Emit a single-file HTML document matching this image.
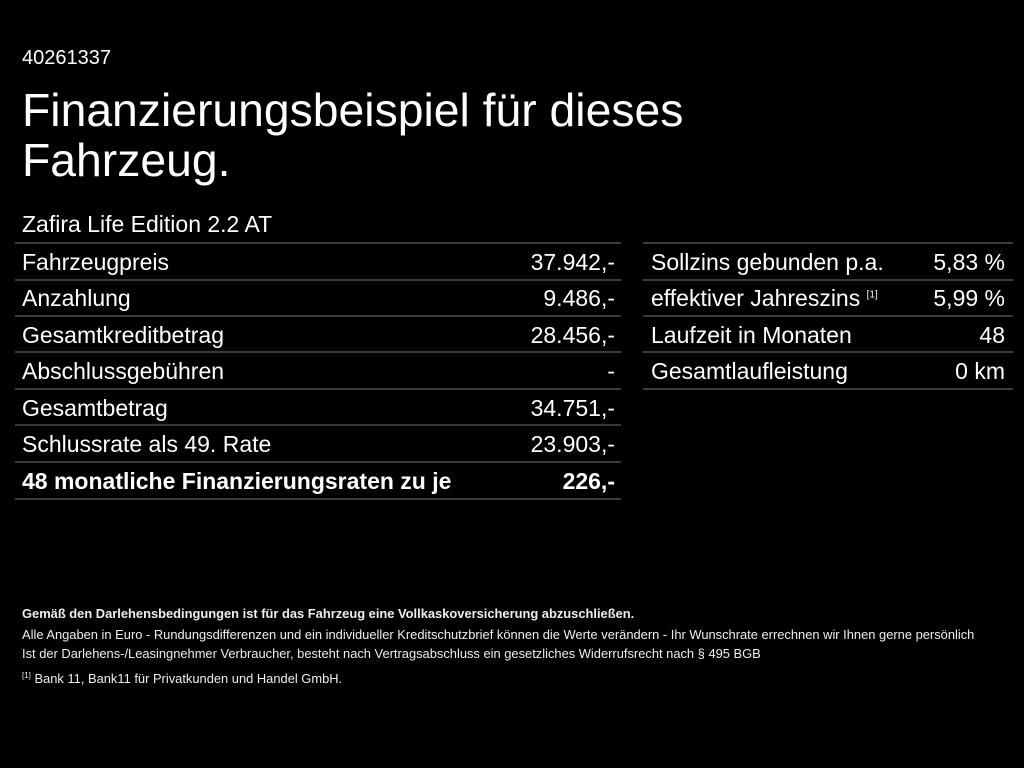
<!DOCTYPE html>
<html><head><meta charset="utf-8"><style>
body{margin:0;width:1024px;height:768px;background:#000;color:#fff;font-family:"Liberation Sans",sans-serif;position:relative;overflow:hidden}
.a{position:absolute;white-space:nowrap}
.l{position:absolute;height:2px;background:#3a3a3a}
.r{position:absolute;font-size:23px;white-space:nowrap}
.f{position:absolute;font-size:12.9px;white-space:nowrap;color:#eee}
</style></head><body>
<div class="a" style="left:22px;top:47px;font-size:20px">40261337</div>
<div class="a" style="left:22px;top:85px;font-size:46.3px;line-height:50px">Finanzierungsbeispiel für dieses<br>Fahrzeug.</div>
<div class="a" style="left:22px;top:211px;font-size:23px">Zafira Life Edition 2.2 AT</div>

<div class="l" style="left:15px;width:606px;top:242px"></div>
<div class="l" style="left:15px;width:606px;top:279px"></div>
<div class="l" style="left:15px;width:606px;top:315px"></div>
<div class="l" style="left:15px;width:606px;top:351px"></div>
<div class="l" style="left:15px;width:606px;top:388px"></div>
<div class="l" style="left:15px;width:606px;top:424px"></div>
<div class="l" style="left:15px;width:606px;top:461px"></div>
<div class="l" style="left:15px;width:606px;top:498px"></div>

<div class="r" style="left:22px;top:249px">Fahrzeugpreis</div><div class="r" style="right:409px;top:249px">37.942,-</div>
<div class="r" style="left:22px;top:285px">Anzahlung</div><div class="r" style="right:409px;top:285px">9.486,-</div>
<div class="r" style="left:22px;top:322px">Gesamtkreditbetrag</div><div class="r" style="right:409px;top:322px">28.456,-</div>
<div class="r" style="left:22px;top:358px">Abschlussgebühren</div><div class="r" style="right:409px;top:358px">-</div>
<div class="r" style="left:22px;top:395px">Gesamtbetrag</div><div class="r" style="right:409px;top:395px">34.751,-</div>
<div class="r" style="left:22px;top:431px">Schlussrate als 49. Rate</div><div class="r" style="right:409px;top:431px">23.903,-</div>
<div class="r" style="left:22px;top:468px;font-weight:bold">48 monatliche Finanzierungsraten zu je</div><div class="r" style="right:409px;top:468px;font-weight:bold">226,-</div>

<div class="l" style="left:643px;width:370px;top:242px"></div>
<div class="l" style="left:643px;width:370px;top:279px"></div>
<div class="l" style="left:643px;width:370px;top:315px"></div>
<div class="l" style="left:643px;width:370px;top:351px"></div>
<div class="l" style="left:643px;width:370px;top:388px"></div>
<div class="r" style="left:651px;top:249px">Sollzins gebunden p.a.</div><div class="r" style="right:19px;top:249px">5,83 %</div>
<div class="r" style="left:651px;top:285px">effektiver Jahreszins <sup style="font-size:10px">[1]</sup></div><div class="r" style="right:19px;top:285px">5,99 %</div>
<div class="r" style="left:651px;top:322px">Laufzeit in Monaten</div><div class="r" style="right:19px;top:322px">48</div>
<div class="r" style="left:651px;top:358px">Gesamtlaufleistung</div><div class="r" style="right:19px;top:358px">0 km</div>

<div class="f" style="left:22px;top:606px;font-weight:bold">Gemäß den Darlehensbedingungen ist für das Fahrzeug eine Vollkaskoversicherung abzuschließen.</div>
<div class="f" style="left:22px;top:627px">Alle Angaben in Euro - Rundungsdifferenzen und ein individueller Kreditschutzbrief können die Werte verändern - Ihr Wunschrate errechnen wir Ihnen gerne persönlich</div>
<div class="f" style="left:22px;top:646px">Ist der Darlehens-/Leasingnehmer Verbraucher, besteht nach Vertragsabschluss ein gesetzliches Widerrufsrecht nach § 495 BGB</div>
<div class="f" style="left:22px;top:671px"><span style="font-size:8px;vertical-align:top">[1]</span> Bank 11, Bank11 für Privatkunden und Handel GmbH.</div>
</body></html>
